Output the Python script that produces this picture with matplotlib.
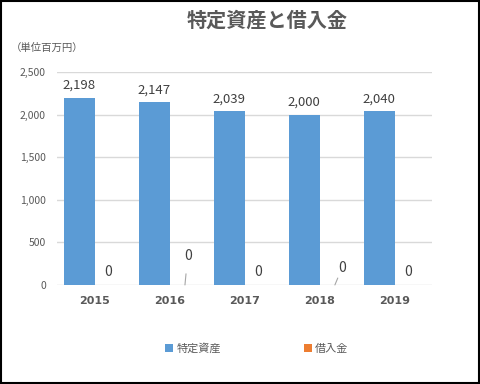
import matplotlib
matplotlib.use("Agg")
import matplotlib.pyplot as plt
import numpy as np

plt.rcParams['font.family'] = ['Noto Sans CJK JP', 'DejaVu Sans']

years = ['2015', '2016', '2017', '2018', '2019']
assets = [2198, 2147, 2039, 2000, 2040]
loans = [0, 0, 0, 0, 0]
series_names = ['特定資産', '借入金']
title = '特定資産と借入金'
unit = '（単位百万円）'

blue = '#5B9BD5'
orange = '#ED7D31'
txt = '#595959'

fig = plt.figure(figsize=(4.8, 3.84), dpi=100)
fig.patch.set_facecolor('white')
ax = fig.add_axes([0.119, 0.258, 0.781, 0.5547])

x = np.arange(len(years))
w = 0.41
b1 = ax.bar(x - w / 2, assets, w, color=blue, label=series_names[0], zorder=3)
b2 = ax.bar(x + w / 2, loans, w, color=orange, label=series_names[1], zorder=3)

ax.set_ylim(0, 2500)
ax.set_xlim(-0.5, len(years) - 0.5)
ax.set_yticks(range(0, 2501, 500))
ax.set_yticklabels([f'{v:,}' for v in range(0, 2501, 500)])
ax.set_xticks(x)
ax.set_xticklabels(years, fontweight='bold', fontsize=8, color=txt, family='DejaVu Sans')
ax.tick_params(axis='y', labelsize=7.5, colors=txt, length=0, pad=8)
ax.tick_params(axis='x', length=0, pad=8)
ax.grid(axis='y', color='#D9D9D9', linewidth=1, zorder=0)
for s in ax.spines.values():
    s.set_visible(False)

for xi, v in zip(x, assets):
    ax.annotate(f'{v:,}', (xi - w / 2, v), xytext=(0, 4), textcoords='offset points',
                ha='center', va='bottom', fontsize=9.5, color='#404040')

# zero labels (some displaced with leader lines)
offsets = [(-1, 9), (2, 21), (-1, 9), (5, 12), (-1, 9)]
leaders = [False, True, False, True, False]
for xi, v, off, ld in zip(x, loans, offsets, leaders):
    if ld:
        ax.annotate(f'{v:,}', (xi + w / 2, v), xytext=off, textcoords='offset points',
                    ha='center', va='center', fontsize=10, color='#404040',
                    arrowprops=dict(arrowstyle='-', color='#A6A6A6', lw=0.8, shrinkA=6, shrinkB=0))
    else:
        ax.annotate(f'{v:,}', (xi + w / 2, v), xytext=off, textcoords='offset points',
                    ha='center', va='center', fontsize=10, color='#404040')

fig.text(0.557, 0.948, title, ha='center', va='center', fontsize=14.5, fontweight='bold', color=txt)
fig.text(0.022, 0.875, unit, ha='left', va='center', fontsize=7.5, color=txt)

leg = fig.legend(handles=[b1, b2], labels=series_names, loc='center', bbox_to_anchor=(0.535, 0.093),
                 ncol=2, frameon=False, fontsize=8, handlelength=0.7, handleheight=0.7,
                 columnspacing=7.5, handletextpad=0.3)
for t in leg.get_texts():
    t.set_color(txt)

fig.add_artist(plt.Rectangle((0.002, 0.002), 0.996, 0.996, transform=fig.transFigure,
                             fill=False, edgecolor='black', linewidth=1.5))

fig.savefig('out.png', dpi=100)
